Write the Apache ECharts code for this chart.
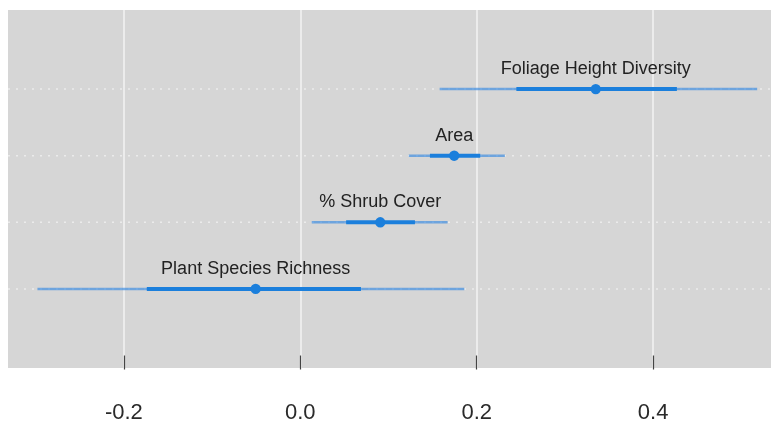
<!DOCTYPE html>
<html>
<head>
<meta charset="utf-8">
<script src="https://cdn.jsdelivr.net/npm/echarts@6/dist/echarts.min.js"></script>
<style>html,body{margin:0;padding:0;background:#fff;}#chart{width:771px;height:424px;}</style>
</head>
<body>
<div id="chart"></div>
<script>
var predictors = ['Plant Species Richness', '% Shrub Cover', 'Area', 'Foliage Height Diversity'];
var rowPos = [1, 2, 3, 4];
var estimate = [-0.0506, 0.0907, 0.1745, 0.335];
var innerLow = [-0.174, 0.052, 0.147, 0.245];
var innerHigh = [0.0688, 0.130, 0.204, 0.427];
var outerLow = [-0.298, 0.013, 0.123, 0.158];
var outerHigh = [0.186, 0.167, 0.232, 0.518];
var xTicks = [-0.2, 0.0, 0.2, 0.4];

var data = predictors.map(function (p, i) {
  return [rowPos[i], estimate[i], innerLow[i], innerHigh[i], outerLow[i], outerHigh[i]];
});

var chart = echarts.init(document.getElementById('chart'), null, {renderer: 'canvas'});
chart.setOption({
  animation: false,
  backgroundColor: '#ffffff',
  grid: {left: 8, right: 0, top: 10, bottom: 56, show: true, backgroundColor: '#d6d6d6', borderWidth: 0},
  xAxis: {
    type: 'value', min: -0.3314, max: 0.5337,
    axisLine: {show: false},
    axisTick: {show: true, customValues: xTicks, length: 14, lineStyle: {color: '#444', width: 1.2}},
    axisLabel: {customValues: xTicks, margin: 34, fontSize: 22, color: '#2a2a2a', fontFamily: 'Liberation Sans, Arial, sans-serif',
      formatter: function (v) { return v.toFixed(1); }},
    splitLine: {show: true, lineStyle: {color: '#ececec', width: 2}}
  },
  yAxis: {
    type: 'value', min: -0.1875, max: 5.1875,
    axisLine: {show: false}, axisTick: {show: false}, axisLabel: {show: false}, splitLine: {show: false}
  },
  series: [{
    type: 'custom',
    data: data,
    encode: {x: [1, 2, 3, 4, 5], y: 0},
    renderItem: function (params, api) {
      var y = api.value(0);
      var c = api.coord([api.value(1), y]);
      var il = api.coord([api.value(2), y]);
      var ih = api.coord([api.value(3), y]);
      var ol = api.coord([api.value(4), y]);
      var oh = api.coord([api.value(5), y]);
      var cs = params.coordSys;
      var idx = params.dataIndex;
      return {
        type: 'group',
        children: [
          {type: 'line', shape: {x1: cs.x, y1: c[1], x2: cs.x + cs.width, y2: c[1]},
            style: {stroke: '#ebebeb', lineWidth: 1.5, lineDash: [2, 6]}},
          {type: 'line', shape: {x1: ol[0], y1: c[1], x2: oh[0], y2: c[1]},
            style: {stroke: 'rgba(40,130,225,0.6)', lineWidth: 2.5}},
          {type: 'line', shape: {x1: il[0], y1: c[1], x2: ih[0], y2: c[1]},
            style: {stroke: '#1b7fdc', lineWidth: 4}},
          {type: 'circle', shape: {cx: c[0], cy: c[1], r: 5.2},
            style: {fill: '#1b7fdc'}},
          {type: 'text', x: c[0], y: c[1] - 20,
            style: {text: predictors[idx], fill: '#222', fontSize: 18, fontFamily: 'Liberation Sans, Arial, sans-serif',
              align: 'center', verticalAlign: 'middle'}}
        ]
      };
    }
  }]
});
</script>
</body>
</html>
